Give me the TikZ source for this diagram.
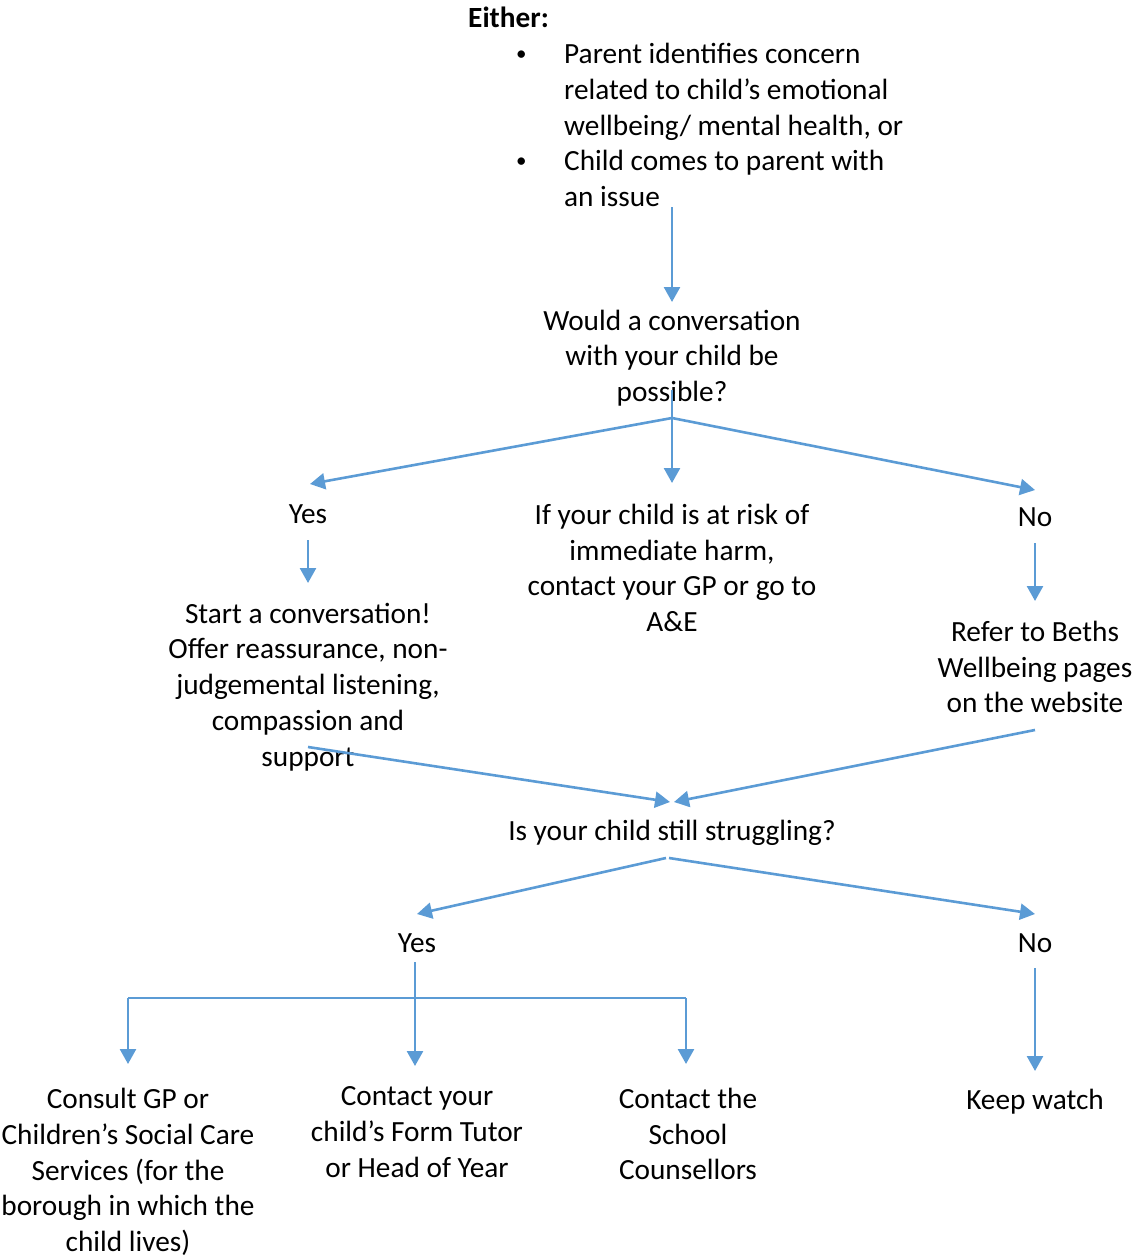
\documentclass[tikz,border=0pt]{standalone}
\usepackage{fontspec}
\setmainfont{Carlito}
\usepackage{tikz}
\usetikzlibrary{arrows.meta}
\definecolor{wordblue}{HTML}{5B9BD5}
\newcommand{\smallbullet}{\raisebox{3pt}{\fontsize{21pt}{21pt}\selectfont\textbullet}}

\begin{document}
\begin{tikzpicture}[x=1pt,y=-1pt,
    txt/.style={inner sep=0pt, align=center, font=\fontsize{29.3pt}{35.8pt}\selectfont},
    flow/.style={draw=wordblue, line width=2.6pt, -{Triangle[width=16pt,length=15pt]}},
    bar/.style={draw=wordblue, line width=1.8pt}]
    \useasboundingbox (0,0) rectangle (1134,1257);
    % start
    \node[txt, align=left, anchor=west] (either) at (468,107) {\textbf{Either:}\\
      \hspace*{48pt}\makebox[48pt][l]{\smallbullet}Parent identifies concern\\
      \hspace*{96pt}related to child’s emotional\\
      \hspace*{96pt}wellbeing/ mental health, or\\
      \hspace*{48pt}\makebox[48pt][l]{\smallbullet}Child comes to parent with\\
      \hspace*{96pt}an issue};
    \node[txt] (q1) at (672,358) {Would a conversation\\with your child be\\possible?};
    \node[txt] (yes1) at (308,514) {Yes};
    \node[txt] (risk) at (672,568) {If your child is at risk of\\immediate harm,\\contact your GP or go to\\A\&E};
    \node[txt] (no1) at (1035,517) {No};
    \node[txt] (talk) at (308,687) {Start a conversation!\\Offer reassurance, non-\\judgemental listening,\\compassion and\\support};
    \node[txt] (refer) at (1035,667) {Refer to Beths\\Wellbeing pages\\on the website};
    \node[txt] (q2) at (672,833) {Is your child still struggling?};
    \node[txt] (yes2) at (417,943) {Yes};
    \node[txt] (no2) at (1035,943) {No};
    \node[txt] (gp) at (128,1172) {Consult GP or\\Children’s Social Care\\Services (for the\\borough in which the\\child lives)};
    \node[txt] (tutor) at (417,1132) {Contact your\\child’s Form Tutor\\or Head of Year};
    \node[txt] (couns) at (688,1134) {Contact the\\School\\Counsellors};
    \node[txt] (watch) at (1035,1102) {Keep watch};
    \coordinate (split1) at (672,418);
    \coordinate (split2) at (669,858);
    \coordinate (bar) at (415,998);
    % arrows
    \draw[flow] (q1.north |- either.south) -- (672,302);
    \draw[flow] (672,390) -- (672,483);
    \draw[flow] (split1) -- ([xshift=2pt]yes1.north |- 0,484);
    \draw[flow] (split1) -- (no1.north |- 0,490);
    \draw[flow] (yes1.south |- 0,540) -- (talk.north |- 0,583);
    \draw[flow] (no1.south |- 0,543) -- (refer.north |- 0,601);
    \draw[flow] (talk.south |- 0,747) -- ([xshift=-2pt]q2.north |- 0,802);
    \draw[flow] (refer.south |- 0,730) -- ([xshift=2pt]q2.north |- 0,802);
    \draw[flow] ([xshift=-3pt]split2) -- (yes2.north |- 0,914);
    \draw[flow] (split2) -- (no2.north |- 0,914);
    \draw[flow] ([xshift=-2pt]yes2.south |- 0,962) -- ([xshift=-2pt]tutor.north |- 0,1066);
    \draw[bar] (gp.north |- bar) -- ([xshift=-2pt]couns.north |- bar);
    \draw[flow] (gp.north |- bar) -- (gp.north |- 0,1064);
    \draw[flow] ([xshift=-2pt]couns.north |- bar) -- ([xshift=-2pt]couns.north |- 0,1064);
    \draw[flow] (no2.south |- 0,968) -- (watch.north |- 0,1071);
\end{tikzpicture}
\end{document}
